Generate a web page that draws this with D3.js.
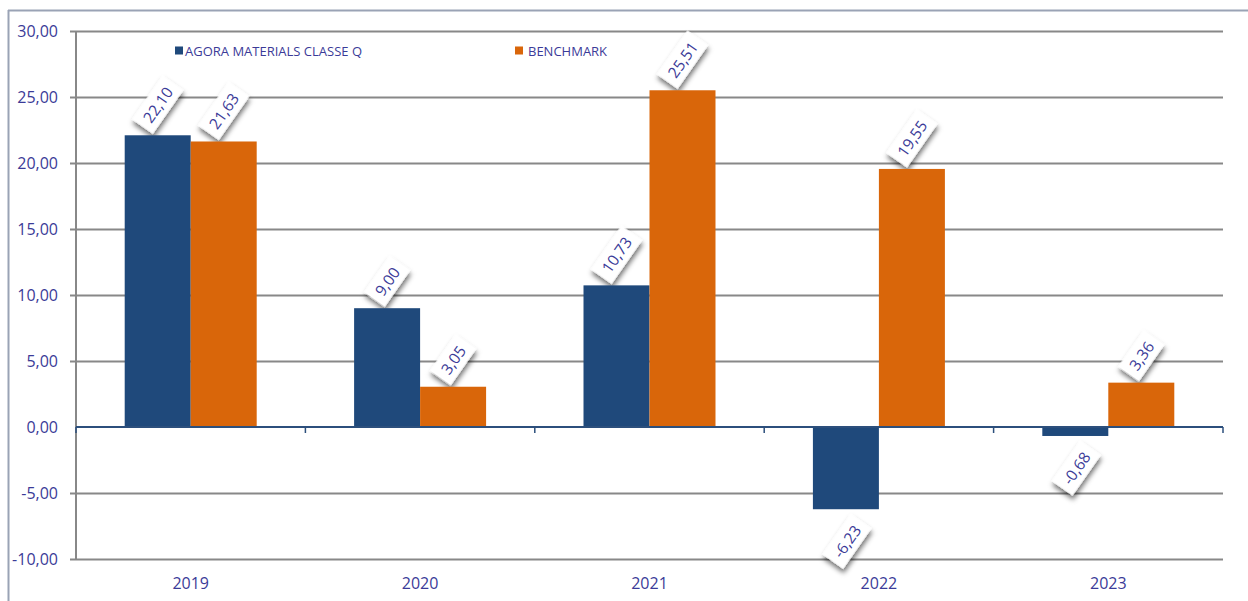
<!DOCTYPE html>
<html>
<head>
<meta charset="utf-8">
<script src="https://cdn.jsdelivr.net/npm/d3@7"></script>
<style>
  body { margin: 0; background: #fff; }
  svg { display: block; }
  text { font-family: "Open Sans", "Noto Sans", sans-serif; }
</style>
</head>
<body>
<svg id="chart" width="1248" height="601"></svg>
<script>
const categories = ["2019", "2020", "2021", "2022", "2023"];
const seriesNames = ["AGORA MATERIALS CLASSE Q", "BENCHMARK"];
const fundValues = [22.10, 9.00, 10.73, -6.23, -0.68];
const benchmarkValues = [21.63, 3.05, 25.51, 19.55, 3.36];
const yTicks = [-10, -5, 0, 5, 10, 15, 20, 25, 30];
const seriesColors = ["#1f497b", "#d9660a"];
const textColor = "#3b3b98";

(function () {
const svg = d3.select("#chart");
const W = 1248, H = 601;
const pLeft = 76, pRight = 1223, pTop = 31, pBottom = 559;
const fmt = v => d3.format(".2f")(v).replace(".", ",").replace("\u2212", "-");

const defs = svg.append("defs");
const f = defs.append("filter").attr("id", "shadow").attr("x", "-50%").attr("y", "-50%").attr("width", "200%").attr("height", "200%");
f.append("feDropShadow").attr("dx", -3).attr("dy", 3).attr("stdDeviation", 2.5).attr("flood-color", "#000").attr("flood-opacity", 0.55);

// outer frame
svg.append("line").attr("x1", 8).attr("x2", W).attr("y1", 10.5).attr("y2", 10.5).attr("stroke", "#9aa3b5").attr("stroke-width", 2);
svg.append("line").attr("x1", 8.5).attr("x2", 8.5).attr("y1", 10).attr("y2", H).attr("stroke", "#9aa3b5").attr("stroke-width", 2);

const x = d3.scaleBand().domain(categories).range([pLeft, pRight]).paddingInner(0).paddingOuter(0);
const xs = d3.scaleBand().domain(seriesNames).range([0, x.bandwidth()]).paddingInner(0).paddingOuter(0.738);
const y = d3.scaleLinear().domain([-10, 30]).range([pBottom, pTop]);

// grid lines
const yAxis = d3.axisLeft(y).tickValues(yTicks).tickSize(-(pRight - pLeft)).tickFormat(fmt);
const gy = svg.append("g").attr("transform", `translate(${pLeft},0)`).call(yAxis);
gy.select(".domain").remove();
gy.selectAll(".tick line").attr("stroke", "#888").attr("stroke-width", 2).attr("x1", -6);
gy.selectAll(".tick text").attr("x", -18).attr("fill", textColor).style("font-size", "16px").attr("dy", "0.32em");
gy.selectAll(".tick").filter(d => d === 0).select("line").attr("stroke", "none");

// left axis line
svg.append("line").attr("x1", pLeft).attr("x2", pLeft).attr("y1", pTop).attr("y2", pBottom).attr("stroke", "#888").attr("stroke-width", 2);

// data
const data = categories.map((c, i) => ({ cat: c, vals: [fundValues[i], benchmarkValues[i]] }));

const angle = -55;
const rad = Math.abs(angle) * Math.PI / 180;
const labels = svg.append("g");

const groups = svg.append("g").selectAll("g").data(data).join("g").attr("transform", d => `translate(${x(d.cat)},0)`);
groups.selectAll("rect").data(d => d.vals.map((v, j) => ({ v, s: seriesNames[j], j }))).join("rect")
  .attr("x", d => xs(d.s))
  .attr("width", xs.bandwidth())
  .attr("y", d => y(Math.max(0, d.v)))
  .attr("height", d => Math.abs(y(d.v) - y(0)))
  .attr("fill", d => seriesColors[d.j]);

data.forEach(d => {
  d.vals.forEach((v, j) => {
    const cx = x(d.cat) + xs(seriesNames[j]) + xs.bandwidth() / 2;
    const g = labels.append("g");
    const t = g.append("text").attr("text-anchor", "middle").attr("dominant-baseline", "central")
      .attr("fill", textColor).style("font-size", "15.5px").text(fmt(v));
    const L = t.node().getComputedTextLength();
    const fh = 15.5;
    const ext = L * Math.sin(rad) + fh * Math.cos(rad);
    let px, py;
    if (v >= 0) { px = cx; py = y(v) - 10 - ext / 2; }
    else { px = cx + 1; py = y(v) + 13 + ext / 2; }
    g.attr("transform", `translate(${px},${py}) rotate(${angle})`);
    g.insert("rect", "text").attr("x", -L / 2 - 7).attr("y", -fh / 2 - 5).attr("width", L + 14).attr("height", fh + 10)
      .attr("fill", "#fff").attr("filter", "url(#shadow)");
  });
});

// zero axis line with ticks
svg.append("line").attr("x1", pLeft).attr("x2", pRight).attr("y1", y(0)).attr("y2", y(0)).attr("stroke", "#2c4f7c").attr("stroke-width", 2);
const bounds = categories.map(c => x(c)).concat([pRight]);
svg.append("g").selectAll("line").data(bounds).join("line")
  .attr("x1", d => d).attr("x2", d => d).attr("y1", y(0)).attr("y2", y(0) + 6)
  .attr("stroke", "#2c4f7c").attr("stroke-width", 1.5);

// x labels
svg.append("g").selectAll("text").data(categories).join("text")
  .attr("x", d => x(d) + x.bandwidth() / 2).attr("y", 589)
  .attr("text-anchor", "middle").attr("fill", textColor).style("font-size", "16px").text(d => d);

// legend
const legendPos = [{ sx: 175, tx: 185 }, { sx: 515, tx: 528 }];
const lg = svg.append("g");
seriesNames.forEach((s, i) => {
  lg.append("rect").attr("x", legendPos[i].sx).attr("y", 46.5).attr("width", 8).attr("height", 8).attr("fill", seriesColors[i]);
  lg.append("text").attr("x", legendPos[i].tx).attr("y", 55.5).attr("fill", textColor).style("font-size", "13px").text(s);
});
})();
</script>
</body>
</html>
